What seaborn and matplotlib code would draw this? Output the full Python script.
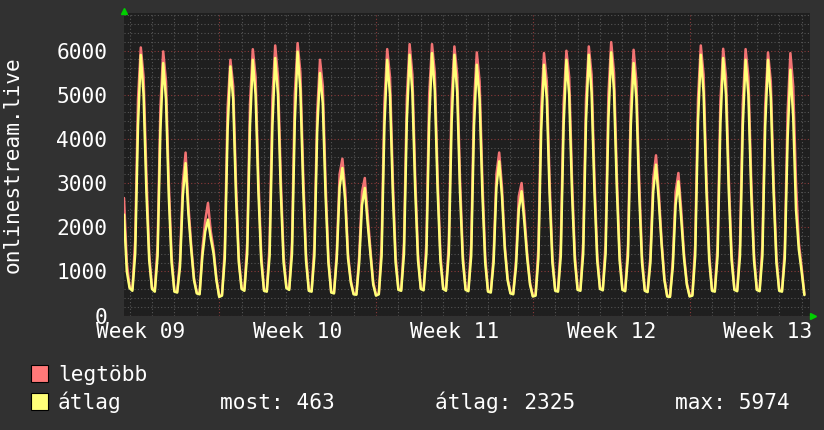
import numpy as np
import pandas as pd
import matplotlib.pyplot as plt
import seaborn as sns
from matplotlib.patches import Rectangle

# 3-hour samples; each row is one day (00h,03h,...,21h), day 0 = Monday of week 10
first_t = -4.25
step = 0.125
avg_head = [2285, 1000]
avg_days = [
    [620, 560, 1400, 4300, 5900, 5000, 2800, 1250],
    [600, 540, 1350, 4200, 5716, 4900, 2700, 1200],
    [540, 520, 1100, 2700, 3450, 2300, 1500, 800],
    [500, 480, 1350, 1900, 2171, 1750, 1400, 800],
    [420, 450, 1300, 4200, 5640, 4900, 2700, 1200],
    [600, 560, 1400, 4300, 5790, 5000, 2800, 1250],
    [560, 540, 1350, 4300, 5830, 5000, 2800, 1200],
    [620, 580, 1400, 4400, 5974, 5100, 2900, 1250],
    [560, 540, 1350, 4200, 5490, 4800, 2700, 1200],
    [520, 500, 1300, 2900, 3340, 2600, 1300, 750],
    [480, 470, 1200, 2500, 2888, 2100, 1400, 700],
    [450, 480, 1350, 4300, 5790, 5000, 2800, 1200],
    [580, 560, 1400, 4400, 5904, 5050, 2850, 1250],
    [600, 570, 1400, 4400, 5942, 5100, 2850, 1250],
    [600, 560, 1400, 4350, 5904, 5050, 2800, 1250],
    [580, 550, 1350, 4300, 5678, 4900, 2750, 1200],
    [540, 520, 1200, 2900, 3490, 2700, 1500, 800],
    [500, 480, 1100, 2400, 2813, 2100, 1300, 700],
    [430, 450, 1300, 4200, 5678, 4900, 2750, 1200],
    [560, 540, 1350, 4300, 5790, 5000, 2800, 1250],
    [580, 560, 1400, 4400, 5904, 5050, 2850, 1250],
    [600, 570, 1400, 4450, 5960, 5100, 2900, 1250],
    [580, 550, 1350, 4300, 5716, 4900, 2750, 1200],
    [560, 530, 1200, 2800, 3416, 2600, 1600, 800],
    [430, 420, 1100, 2500, 3038, 2200, 1300, 700],
    [430, 450, 1350, 4400, 5904, 5050, 2850, 1250],
    [560, 540, 1350, 4350, 5830, 5000, 2800, 1250],
    [580, 550, 1350, 4300, 5790, 5000, 2800, 1250],
    [580, 550, 1350, 4300, 5790, 4950, 2800, 1200],
    [560, 540, 1300, 4000, 5565, 4500, 2400, 1500],
]
avg_tail = [1000, 463]

max_head = [2660, 1200]
max_days = [
    [650, 600, 1700, 4900, 6070, 5400, 3200, 1400],
    [630, 580, 1600, 4700, 5980, 5300, 3000, 1350],
    [560, 540, 1250, 3000, 3690, 2500, 1600, 850],
    [520, 500, 1500, 2150, 2548, 1900, 1500, 850],
    [440, 480, 1500, 4700, 5791, 5200, 3000, 1300],
    [630, 600, 1650, 4800, 6030, 5400, 3100, 1400],
    [590, 570, 1600, 4900, 6115, 5400, 3100, 1350],
    [650, 610, 1650, 5000, 6168, 5500, 3200, 1400],
    [590, 570, 1600, 4600, 5791, 5200, 3000, 1300],
    [540, 520, 1450, 3200, 3550, 2850, 1400, 800],
    [500, 490, 1350, 2800, 3114, 2300, 1500, 760],
    [470, 500, 1600, 4800, 6032, 5400, 3100, 1350],
    [600, 590, 1650, 4900, 6145, 5450, 3150, 1400],
    [620, 600, 1650, 5000, 6145, 5500, 3150, 1400],
    [620, 590, 1650, 4900, 6093, 5450, 3100, 1400],
    [600, 580, 1600, 4800, 5957, 5300, 3050, 1350],
    [560, 540, 1350, 3200, 3690, 2900, 1600, 850],
    [520, 500, 1250, 2700, 3000, 2300, 1400, 750],
    [450, 480, 1550, 4700, 5942, 5300, 3050, 1350],
    [580, 570, 1600, 4800, 5995, 5400, 3100, 1400],
    [600, 590, 1650, 4900, 6093, 5450, 3150, 1400],
    [620, 600, 1650, 5000, 6190, 5500, 3200, 1400],
    [600, 580, 1600, 4800, 6017, 5300, 3050, 1350],
    [580, 550, 1350, 3100, 3627, 2800, 1700, 850],
    [450, 440, 1250, 2800, 3227, 2400, 1400, 750],
    [450, 480, 1600, 4900, 6115, 5450, 3150, 1400],
    [580, 570, 1600, 4850, 6040, 5400, 3100, 1400],
    [600, 580, 1600, 4800, 6032, 5400, 3100, 1400],
    [600, 580, 1600, 4750, 5957, 5300, 3050, 1350],
    [580, 570, 1500, 4600, 5942, 5200, 3000, 1650],
]
max_tail = [1100, 480]

week_lines = [0, 7, 14, 21]
week_pos = [-3.5, 3.5, 10.5, 17.5, 24.5]
week_labels = ['Week 09', 'Week 10', 'Week 11', 'Week 12', 'Week 13']
y_ticks = [0, 1000, 2000, 3000, 4000, 5000, 6000]
names = ['legtöbb', 'átlag']
stat_labels = ['most: 463', 'átlag: 2325', 'max: 5974']

avg = avg_head + [v for row in avg_days for v in row] + avg_tail
mx = max_head + [v for row in max_days for v in row] + max_tail
t = first_t + step * np.arange(len(avg))
df = pd.DataFrame({'t': t, 'avg': avg, 'max': mx})

BG = '#313131'
CANVAS = '#1f1f1f'
RED = '#ff7878'
YEL = '#ffff78'
FS = 15.2

sns.set_theme(style='dark')
plt.rcParams['font.family'] = ['DejaVu Sans Mono']

fig = plt.figure(figsize=(8.24, 4.30), dpi=100, facecolor=BG)
W, H = 824, 430
ax = fig.add_axes([124 / W, 1 - 315.5 / H, 686 / W, 302.5 / H])
ax.set_facecolor(CANVAS)

sns.lineplot(data=df, x='t', y='max', color=RED, lw=1.8, alpha=0.95, ax=ax)
sns.lineplot(data=df, x='t', y='avg', color=YEL, lw=1.8, ax=ax)

ax.set_xlim(-4.25, 26.375)
ax.set_ylim(0, 6850)
ax.set_xlabel('')
ax.set_ylabel('')

ax.set_yticks(y_ticks)
ax.set_yticks(np.arange(0, 6850, 200), minor=True)
ax.set_xticks(week_pos)
ax.set_xticklabels(week_labels)
ax.set_xticks([d for d in range(-4, 27) if d % 7 != 0], minor=True)

ax.set_axisbelow(True)
ax.grid(False)
ax.yaxis.grid(True, which='minor', color='#555555', ls=(0, (1, 2)), lw=0.8)
ax.yaxis.grid(True, which='major', color='#8a3a3a', ls=(0, (1, 2)), lw=0.8)
ax.xaxis.grid(True, which='minor', color='#555555', ls=(0, (1, 2)), lw=0.8)
for w in week_lines:
    ax.axvline(w, color='#8a3a3a', ls=(0, (1, 2)), lw=0.8, zorder=0.6)

ax.tick_params(axis='both', which='both', length=0, colors='white', labelsize=FS)
ax.tick_params(axis='y', pad=12)
ax.tick_params(axis='x', pad=5)
for s in ax.spines.values():
    s.set_visible(False)

# axis arrows
ax.plot([0], [1.008], marker='^', color='#00d000', ms=5, transform=ax.transAxes, clip_on=False)
ax.plot([1.0044], [0], marker='>', color='#00d000', ms=5, transform=ax.transAxes, clip_on=False)

fig.text(12.5 / W, 1 - 165 / H, 'onlinestream.live', rotation=90, ha='center', va='center',
         color='white', fontsize=FS)

# legend
for i, (name, col) in enumerate(zip(names, [RED, YEL])):
    top = 365 + i * 28
    fig.patches.append(Rectangle((31 / W, 1 - (top + 16.5) / H), 16.5 / W, 16.5 / H,
                                 transform=fig.transFigure, facecolor=col, edgecolor='black', lw=0.8))
    fig.text(58 / W, 1 - (top + 16) / H, name, color='white', fontsize=FS, va='baseline')

for x, s in zip([220, 435, 675], stat_labels):
    fig.text(x / W, 1 - 409 / H, s, color='white', fontsize=FS, va='baseline')

fig.savefig('out.png', dpi=100, facecolor=BG)
